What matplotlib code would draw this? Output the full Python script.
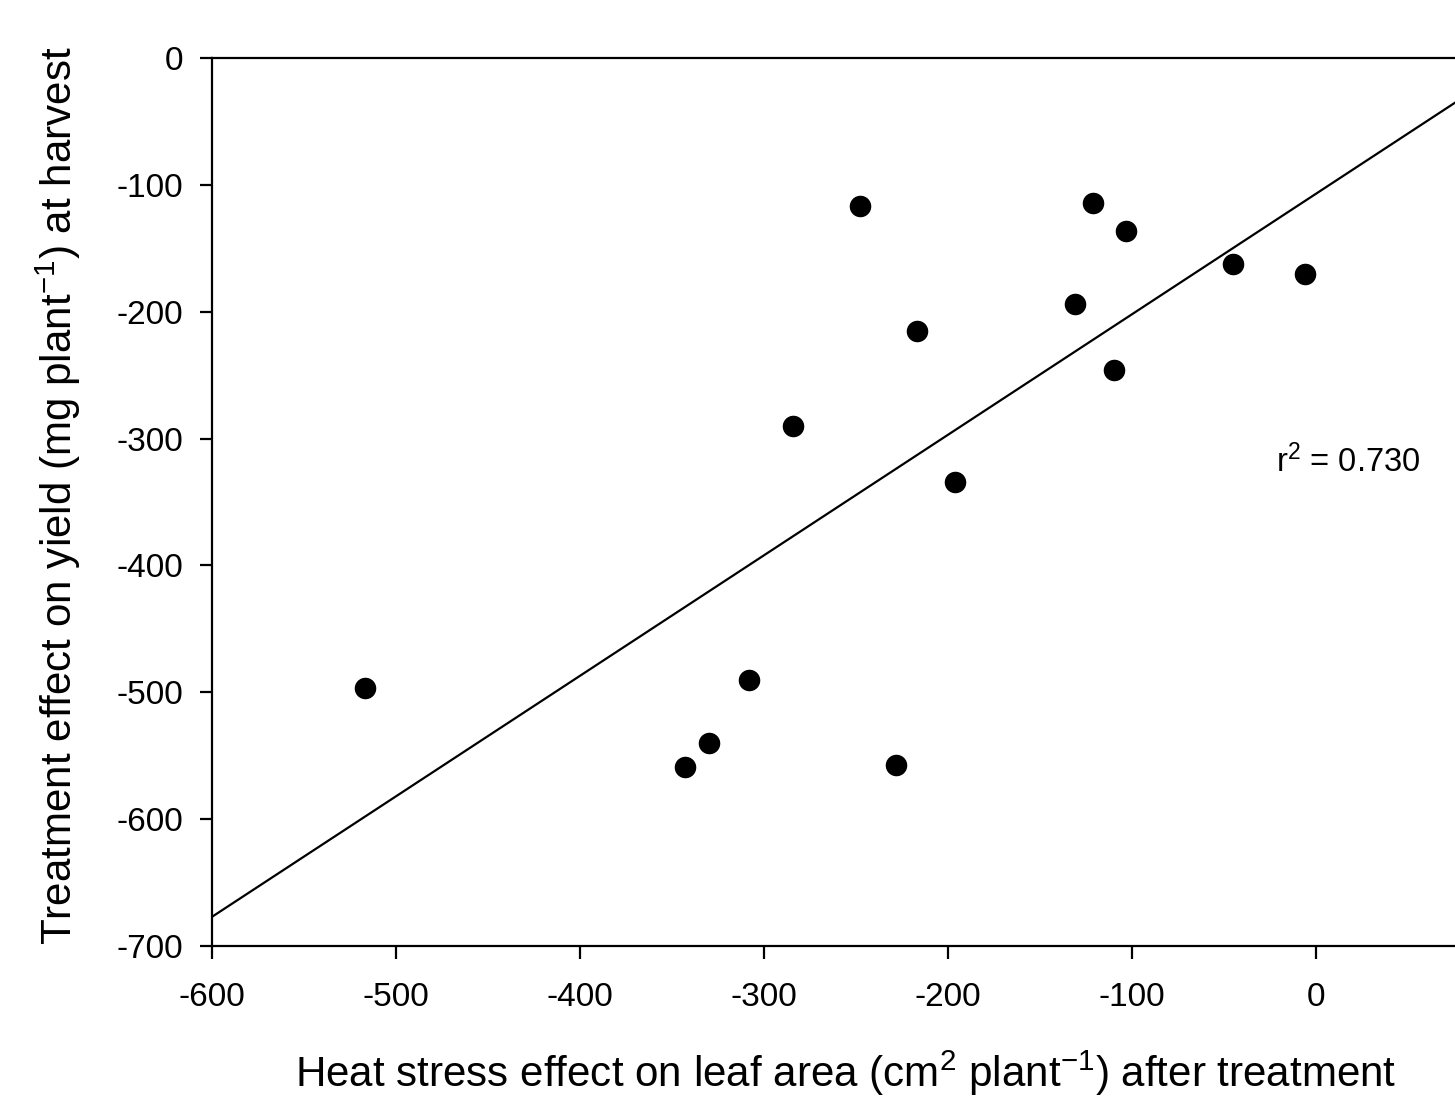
import numpy as np
import matplotlib
matplotlib.use('Agg')
import matplotlib.pyplot as plt

# data
leaf_area = [-517, -343, -330, -308, -284, -248, -217, -228, -196, -131, -121, -103, -110, -45, -6]
yield_eff = [-497, -559, -540, -490, -290, -117, -215, -557, -334, -194, -114, -136, -246, -162, -170]
# fitted line
slope = 0.95
intercept = -107.0
fit_x = np.array([-600, 100])

plt.rcParams['font.family'] = ['Liberation Sans', 'DejaVu Sans']
plt.rcParams['mathtext.fontset'] = 'custom'
plt.rcParams['mathtext.rm'] = 'Liberation Sans'
plt.rcParams['mathtext.it'] = 'Liberation Sans:italic'
plt.rcParams['axes.unicode_minus'] = False

fig = plt.figure(figsize=(14.55, 10.98), dpi=100)
ax = fig.add_axes([212/1455, 152/1098, 1288/1455, 888/1098])

ax.plot(fit_x, slope*fit_x + intercept, color='black', lw=1.6)
ax.plot(leaf_area, yield_eff, 'o', color='black', markersize=14.5)

ax.set_xlim(-600, 100)
ax.set_ylim(-700, 0)
ax.set_xticks([-600, -500, -400, -300, -200, -100, 0])
ax.set_yticks([0, -100, -200, -300, -400, -500, -600, -700])

for s in ['left', 'bottom', 'top']:
    ax.spines[s].set_linewidth(1.6)
ax.spines['right'].set_visible(False)
ax.tick_params(direction='out', length=9, width=1.6, labelsize=24)
ax.tick_params(axis='y', pad=12)
ax.tick_params(axis='x', pad=17)

ax.text(-22, -318, r'r$^2$ = 0.730', fontsize=23.5, ha='left', va='center')

fig.text(58/1455, 1 - 496/1098, r'Treatment effect on yield (mg plant$^{-1}$) at harvest',
         rotation=90, fontsize=30.3, ha='center', va='center')
fig.text(846/1455, 1 - 1087/1098, r'Heat stress effect on leaf area (cm$^2$ plant$^{-1}$) after treatment',
         fontsize=30.3, ha='center', va='baseline')

fig.savefig('out.png', dpi=100)
